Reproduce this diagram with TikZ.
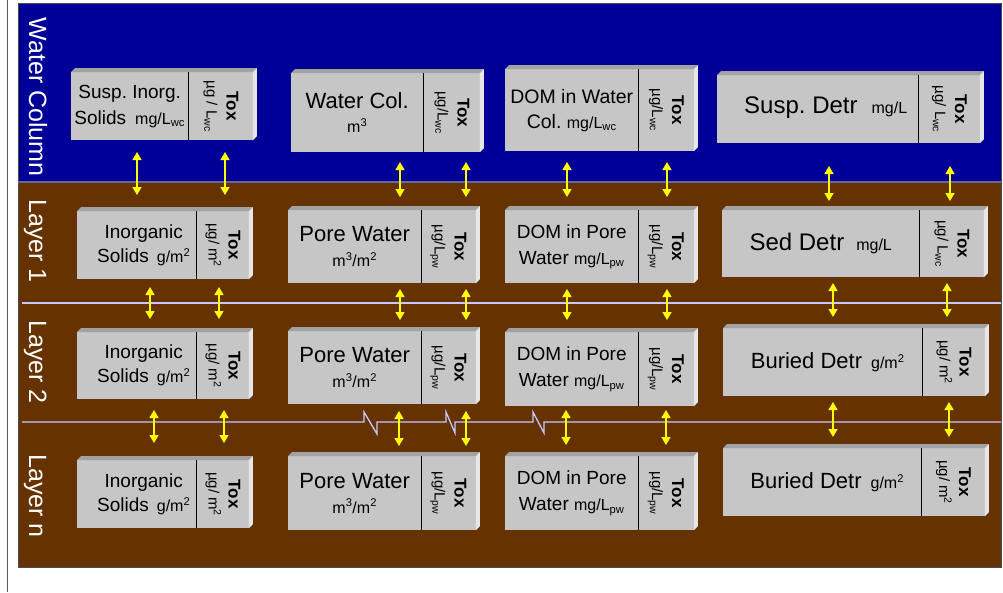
\documentclass[tikz,border=0pt]{standalone}
\usepackage{fontspec}
\setmainfont{Liberation Sans}
\usepackage{graphicx}
\usetikzlibrary{arrows.meta,calc}
\definecolor{water}{HTML}{000099}
\definecolor{sediment}{HTML}{663300}
\definecolor{boxface}{HTML}{C6C6C6}
\definecolor{boxtop}{HTML}{A2A2A2}
\definecolor{boxside}{HTML}{E6E6E6}
\definecolor{layerline}{HTML}{C8C8FF}
\definecolor{flux}{HTML}{FFFF00}
\newcommand{\smallunit}[1]{{\fontsize{16}{20}\selectfont #1}}
\newcommand{\toxtext}[1]{\rotatebox{-90}{\begin{tabular}{@{}c@{}}{\fontsize{17}{20}\selectfont\bfseries Tox}\\#1\end{tabular}}}
\tikzset{
 cell/.style={fill=boxface,anchor=north west,inner sep=0pt,align=center,font=\fontsize{19}{26}\selectfont},
 bigcell/.style={cell,font=\fontsize{16}{25}\selectfont},
 toxcell/.style={fill=boxface,anchor=north west,inner sep=0pt,font=\fontsize{15}{20}\selectfont},
 layername/.style={text=white,rotate=-90,anchor=base,font=\fontsize{25}{30}\selectfont},
 divider/.style={draw=black,line width=0.9pt},
 flux/.style={{Triangle[width=9pt,length=8pt]}-{Triangle[width=9pt,length=8pt]},draw=flux,fill=flux,line width=1.3pt}}
\begin{document}
\frenchspacing
\begin{tikzpicture}[x=1pt,y=-1pt]
\useasboundingbox (0,0) rectangle (1003,592);
\fill[white] (0,0) rectangle (1003,592);
\draw[gray!70!black,line width=0.8pt] (7,0) -- (7,592);

% compartments
\fill[water] (18,3) rectangle (1001,182);
\fill[sediment] (18,182) rectangle (1001,567);
\draw[gray!60!black,line width=0.8pt] (18,3) rectangle (1001,567);
\draw[gray!80!blue,line width=1.2pt] (18,182) -- (1001,182);
\draw[layerline,line width=1.3pt] (22,303) -- (1001,303);
\draw[layerline,line width=1.3pt] (22,422) -- (364,422) -- (364,412) -- (377,434) -- (377,422) -- (446,422) -- (446,412) -- (455,433) -- (455,422) -- (533,422) -- (533,412) -- (544,433) -- (544,422) -- (1001,422);

\node[layername] (wclabel) at (29,97) {Water Column};
\node[layername] (l1label) at (29,241) {Layer 1};
\node[layername] (l2label) at (29,362) {Layer 2};
\node[layername] (lnlabel) at (29,496) {Layer n};

% water column
\node[cell,minimum width=117,minimum height=68] (wcsolids) at (71,72) {Susp. Inorg.\\Solids\hspace{9pt}\smallunit{mg/L\textsubscript{wc}}};
\node[toxcell,minimum width=64,minimum height=68] (wcsolids-tox) at (wcsolids.north east) {\toxtext{µg / L\textsubscript{wc}}};
\node[bigcell,font=\fontsize{16}{24}\selectfont,minimum width=132,minimum height=79] (wcwater) at (291,73) {{\fontsize{22}{24}\selectfont Water Col.}\\m\textsuperscript{3}};
\node[toxcell,minimum width=56,minimum height=79] (wcwater-tox) at (wcwater.north east) {\toxtext{µg/L\textsubscript{wc}}};
\node[cell,font=\fontsize{19.5}{25}\selectfont,minimum width=133,minimum height=82] (wcdom) at (505,69) {DOM in Water\\Col. \smallunit{mg/L\textsubscript{wc}}};
\node[toxcell,minimum width=55,minimum height=82] (wcdom-tox) at (wcdom.north east) {\toxtext{µg/L\textsubscript{wc}}};
\node[cell,minimum width=201,minimum height=68] (wcdetr) at (717,75) {\raisebox{9pt}{\hspace*{16pt}{\fontsize{24}{28}\selectfont Susp. Detr}\hspace{14pt}\smallunit{mg/L}}};
\node[toxcell,minimum width=61,minimum height=68] (wcdetr-tox) at (wcdetr.north east) {\toxtext{µg/ L\textsubscript{wc}}};

% layer 1
\node[cell,font=\fontsize{19}{24}\selectfont,minimum width=119,minimum height=68] (l1solids) at (77,211) {\hspace*{14pt}Inorganic\\\hspace*{14pt}Solids\hspace{8pt}\smallunit{g/m\textsuperscript{2}}};
\node[toxcell,minimum width=52,minimum height=68] (l1solids-tox) at (l1solids.north east) {\toxtext{µg/ m\textsuperscript{2}}};
\node[bigcell,minimum width=133,minimum height=73] (l1pore) at (288,210) {{\fontsize{22}{25}\selectfont Pore Water}\\m\textsuperscript{3}/m\textsuperscript{2}};
\node[toxcell,minimum width=54,minimum height=73] (l1pore-tox) at (l1pore.north east) {\toxtext{µg/L\textsubscript{pw}}};
\node[cell,minimum width=133,minimum height=73] (l1dom) at (505,210) {DOM in Pore\\Water \smallunit{mg/L\textsubscript{pw}}};
\node[toxcell,minimum width=55,minimum height=73] (l1dom-tox) at (l1dom.north east) {\toxtext{µg/L\textsubscript{pw}}};
\node[cell,minimum width=197,minimum height=67] (l1detr) at (722,210) {{\fontsize{24}{28}\selectfont Sed Detr}\hspace{12pt}\smallunit{mg/L}};
\node[toxcell,minimum width=64,minimum height=67] (l1detr-tox) at (l1detr.north east) {\toxtext{µg/ L\textsubscript{wc}}};

% layer 2
\node[cell,font=\fontsize{19}{24}\selectfont,minimum width=119,minimum height=67] (l2solids) at (77,332) {\hspace*{14pt}Inorganic\\\hspace*{14pt}Solids\hspace{8pt}\smallunit{g/m\textsuperscript{2}}};
\node[toxcell,minimum width=52,minimum height=67] (l2solids-tox) at (l2solids.north east) {\toxtext{µg/ m\textsuperscript{2}}};
\node[bigcell,minimum width=133,minimum height=73] (l2pore) at (288,331) {{\fontsize{22}{25}\selectfont Pore Water}\\m\textsuperscript{3}/m\textsuperscript{2}};
\node[toxcell,minimum width=54,minimum height=73] (l2pore-tox) at (l2pore.north east) {\toxtext{µg/L\textsubscript{pw}}};
\node[cell,minimum width=133,minimum height=74] (l2dom) at (505,332) {DOM in Pore\\Water \smallunit{mg/L\textsubscript{pw}}};
\node[toxcell,minimum width=55,minimum height=74] (l2dom-tox) at (l2dom.north east) {\toxtext{µg/L\textsubscript{pw}}};
\node[cell,minimum width=199,minimum height=68] (l2detr) at (723,328) {\hspace*{10pt}{\fontsize{22}{26}\selectfont Buried Detr}\hspace{9pt}\smallunit{g/m\textsuperscript{2}}};
\node[toxcell,minimum width=62,minimum height=68] (l2detr-tox) at (l2detr.north east) {\toxtext{µg/ m\textsuperscript{2}}};

% layer n
\node[cell,font=\fontsize{19}{24}\selectfont,minimum width=119,minimum height=68] (lnsolids) at (77,460) {\hspace*{14pt}Inorganic\\\hspace*{14pt}Solids\hspace{8pt}\smallunit{g/m\textsuperscript{2}}};
\node[toxcell,minimum width=52,minimum height=68] (lnsolids-tox) at (lnsolids.north east) {\toxtext{µg/ m\textsuperscript{2}}};
\node[bigcell,minimum width=133,minimum height=74] (lnpore) at (288,456) {{\fontsize{22}{25}\selectfont Pore Water}\\m\textsuperscript{3}/m\textsuperscript{2}};
\node[toxcell,minimum width=54,minimum height=74] (lnpore-tox) at (lnpore.north east) {\toxtext{µg/L\textsubscript{pw}}};
\node[cell,minimum width=133,minimum height=74] (lndom) at (505,456) {DOM in Pore\\Water \smallunit{mg/L\textsubscript{pw}}};
\node[toxcell,minimum width=55,minimum height=74] (lndom-tox) at (lndom.north east) {\toxtext{µg/L\textsubscript{pw}}};
\node[cell,minimum width=198,minimum height=68] (lndetr) at (723,448) {\hspace*{10pt}{\fontsize{22}{26}\selectfont Buried Detr}\hspace{9pt}\smallunit{g/m\textsuperscript{2}}};
\node[toxcell,minimum width=63,minimum height=68] (lndetr-tox) at (lndetr.north east) {\toxtext{µg/ m\textsuperscript{2}}};

% bevel faces and dividers
\foreach \bx in {wcsolids,wcwater,wcdom,wcdetr,l1solids,l1pore,l1dom,l1detr,l2solids,l2pore,l2dom,l2detr,lnsolids,lnpore,lndom,lndetr} {
 \fill[boxtop] (\bx.north west) -- ++(4,-4) -- ($(\bx-tox.north east)+(4,-4)$) -- (\bx-tox.north east) -- cycle;
 \fill[boxside] (\bx-tox.north east) -- ++(4,-4) -- ($(\bx-tox.south east)+(4,-4)$) -- (\bx-tox.south east) -- cycle;
 \draw[divider] (\bx.north east) -- (\bx.south east);
}

% exchange arrows
\foreach \ax/\at/\ab [count=\i] in {137/152/195,225/152/195,400/162/197,466/162/197,567/162/197,667/162/197,829/166/201,950/166/201,
 150/287/319,219/287/319,400/289/320,466/289/320,567/289/320,667/289/320,833/283/317,947/283/317,
 154/410/443,224/410/443,399/411/446,466/411/446,566/410/445,666/410/445,833/402/437,949/402/437} {
 \coordinate (up\i) at (\ax,\at);
 \coordinate (dn\i) at (\ax,\ab);
 \draw[flux] (up\i) -- (dn\i);
}
\end{tikzpicture}
\end{document}
